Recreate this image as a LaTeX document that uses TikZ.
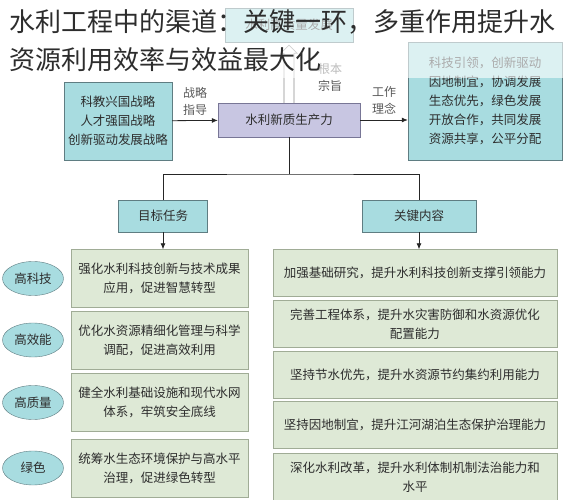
\documentclass[tikz,border=0pt]{standalone}
\usepackage{fontspec}
\setmainfont{Noto Sans CJK SC}
\usepackage{tikz}
\usetikzlibrary{calc,positioning,arrows.meta,shapes.geometric}

\definecolor{tealfill}{RGB}{168,220,224}
\definecolor{tealdraw}{RGB}{95,125,130}
\definecolor{corefill}{RGB}{200,198,226}
\definecolor{coredraw}{RGB}{120,118,150}
\definecolor{colfill}{RGB}{222,233,214}
\definecolor{coldraw}{RGB}{160,172,150}
\definecolor{txt}{RGB}{45,45,45}

\begin{document}
\begin{tikzpicture}[x=1pt, y=-1pt,
        base/.style={inner sep=0pt, align=center, text=txt, font=\fontsize{12.5}{19}\selectfont},
        tealbox/.style={base, rectangle, draw=tealdraw, fill=tealfill},
        corebox/.style={base, rectangle, draw=coredraw, fill=corefill},
        colbox/.style={base, rectangle, draw=coldraw, fill=colfill, minimum height=58pt},
        rcolbox/.style={colbox, minimum width=284pt, minimum height=47pt},
        lcolbox/.style={colbox, minimum width=177pt},
        tag/.style={base, ellipse, draw=tealdraw, fill=tealfill, minimum width=61pt, minimum height=34pt},
        note/.style={base, text=black!65, font=\fontsize{12}{17}\selectfont},
        link/.style={draw=black!85, line width=0.8pt},
        arr/.style={link, -{Latex[length=6pt, width=5pt]}}
    ]
    \useasboundingbox (0,0) rectangle (566,500);
    \fill[white] (0,0) rectangle (566,500);

    % upper part
    \node[tealbox, minimum width=128pt, minimum height=34pt] (top) at (289,25) {水利高质量发展};
    \node[corebox, minimum width=142pt, minimum height=34pt] (core) at (289,120) {水利新质生产力};
    \node[tealbox, minimum width=108pt, minimum height=78pt] (left) at (118,121)
        {科教兴国战略\\人才强国战略\\创新驱动发展战略};
    \node[tealbox, minimum width=154pt, minimum height=118pt] (right) at (485,101)
        {科技引领，创新驱动\\因地制宜，协调发展\\生态优先，绿色发展\\开放合作，共同发展\\资源共享，公平分配};

    \draw[arr] (left) -- (core) node[note, midway, above=5pt] {战略\\指导};
    \draw[arr] (core) -- (right.west |- core) node[note, midway, above=5pt] {工作\\理念};

    % hollow arrow up to the top box
    \draw[black!45, fill=white, line width=0.7pt]
        ($(core.north)+(-5,0)$) -- ($(top.south)+(-5,11)$) -- ($(top.south)+(-8,11)$)
        -- ($(top.south)+(0,3)$) -- ($(top.south)+(8,11)$) -- ($(top.south)+(5,11)$)
        -- ($(core.north)+(5,0)$);
    \node[note, anchor=west] (aim) at (318,77) {根本\\宗旨};

    % two branches
    \node[tealbox, minimum width=89pt, minimum height=32pt] (goal) at (163,216) {目标任务};
    \node[tealbox, minimum width=114pt, minimum height=32pt] (key) at (419,216) {关键内容};
    \coordinate (split) at (289,174);
    \draw[link] (core) -- (split);
    \draw[link] (goal) |- (split) -| (key);

    % left column
    \node[lcolbox] (l1) at (159.5,278.5) {强化水利科技创新与技术成果\\应用，促进智慧转型};
    \node[lcolbox] (l2) at (159.5,340) {优化水资源精细化管理与科学\\调配，促进高效利用};
    \node[lcolbox] (l3) at (159.5,402.5) {健全水利基础设施和现代水网\\体系，牢筑安全底线};
    \node[lcolbox] (l4) at (159.5,468) {统筹水生态环境保护与高水平\\治理，促进绿色转型};

    \node[tag] (t1) at (l1 -| 33,0) {高科技};
    \node[tag] (t2) at (l2 -| 33,0) {高效能};
    \node[tag] (t3) at (l3 -| 33,0) {高质量};
    \node[tag] (t4) at (l4 -| 33,0) {绿色};

    % right column
    \node[rcolbox] (r1) at (415,273) {加强基础研究，提升水利科技创新支撑引领能力};
    \node[rcolbox] (r2) at (415,324) {完善工程体系，提升水灾害防御和水资源优化\\配置能力};
    \node[rcolbox] (r3) at (415,374.5) {坚持节水优先，提升水资源节约集约利用能力};
    \node[rcolbox] (r4) at (415,425) {坚持因地制宜，提升江河湖泊生态保护治理能力};
    \node[rcolbox] (r5) at (415,477) {深化水利改革，提升水利体制机制法治能力和\\水平};

    \draw[arr] (goal) -- (goal |- l1.north);
    \draw[arr] (key) -- (key |- r1.north);

    % title over a pale band
    \fill[white, opacity=0.6] (0,0) rectangle (566,78);
    \node[anchor=west, inner sep=0pt, text=txt, font=\fontsize{26}{30}\selectfont] (title1) at (9,22)
        {水利工程中的渠道：关键一环，多重作用提升水};
    \node[anchor=west, inner sep=0pt, text=txt, font=\fontsize{26}{30}\selectfont] (title2) at (9,60)
        {资源利用效率与效益最大化};
\end{tikzpicture}
\end{document}
